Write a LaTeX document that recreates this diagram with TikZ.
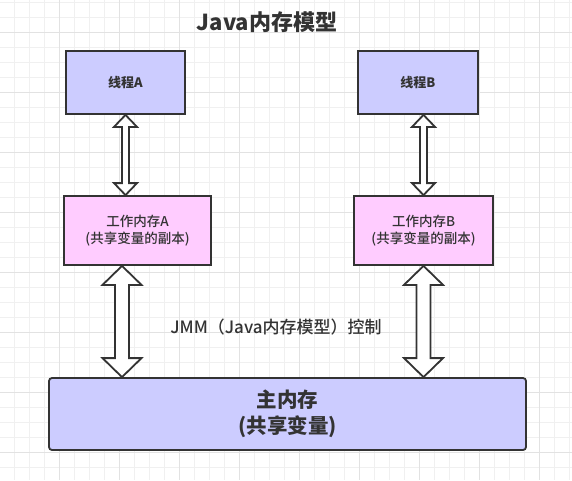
\documentclass[tikz,border=0pt]{standalone}
\usepackage{fontspec}
\setmainfont{Noto Sans CJK SC}
\newfontfamily\cjkmedium{Noto Sans CJK SC}[UprightFont=* Medium]
\usepackage{tikz}
\usetikzlibrary{calc}

\definecolor{ink}{HTML}{333333}
\definecolor{threadblue}{HTML}{CCCCFF}
\definecolor{mempink}{HTML}{FFCCFF}
\definecolor{gridminor}{HTML}{F0F0F0}
\definecolor{gridmajor}{HTML}{E2E2E2}

% hollow double arrow: top point, bottom point, half shaft, half head, head length
\newcommand{\dblarrow}[5]{%
  \draw[fatline] let \p1=(#1), \p2=(#2) in
    (\x1,\y1) -- (\x1+#4,\y1-#5) -- (\x1+#3,\y1-#5) -- (\x1+#3,\y2+#5)
    -- (\x1+#4,\y2+#5) -- (\x1,\y2) -- (\x1-#4,\y2+#5) -- (\x1-#3,\y2+#5)
    -- (\x1-#3,\y1-#5) -- (\x1-#4,\y1-#5) -- cycle;}

\begin{document}
\begin{tikzpicture}[x=1pt,y=-1pt,
    box/.style={draw=ink, line width=1.8pt, text=ink, align=center, inner sep=0pt},
    thread/.style={box, fill=threadblue, font=\bfseries\fontsize{13}{16}\selectfont},
    workmem/.style={box, fill=mempink, font=\cjkmedium\fontsize{13.5}{17}\selectfont},
    mainmem/.style={box, fill=threadblue, rounded corners=3pt, font=\bfseries\fontsize{20.5}{25.5}\selectfont},
    fatline/.style={draw=ink, fill=white, line width=1.8pt, line join=miter}]

        \useasboundingbox (0,0) rectangle (572,480);

        % background grid
        \foreach \gx in {14.5,29.5,...,570} \draw[gridminor, line width=1pt] (\gx,0) -- (\gx,480);
        \foreach \gy in {2.7,17.7,...,480} \draw[gridminor, line width=1pt] (0,\gy) -- (572,\gy);
        \foreach \gx in {59.5,119.5,...,570} \draw[gridmajor, line width=1pt] (\gx,0) -- (\gx,480);
        \foreach \gy in {32.7,92.7,...,480} \draw[gridmajor, line width=1pt] (0,\gy) -- (572,\gy);

        \node[text=ink, font=\bfseries\fontsize{22}{26}\selectfont] (title) at (267,22) {Java内存模型};

        \node[thread, minimum width=119, minimum height=63] (ta) at (125.5,82.5) {线程A};
        \node[thread, minimum width=120, minimum height=63] (tb) at (418,82.5) {线程B};

        \node[workmem, minimum width=147, minimum height=69] (wa) at (137.5,230.5) {工作内存A\\(共享变量的副本)};
        \node[workmem, minimum width=139, minimum height=69] (wb) at (423.5,230.5) {工作内存B\\(共享变量的副本)};

        \node[mainmem, minimum width=477, minimum height=72] (mm) at (287.5,414) {主内存\\(共享变量)};

        \node[text=ink, font=\cjkmedium\fontsize{17}{20}\selectfont] (jmm) at (276,327) {JMM（Java内存模型）控制};

        \dblarrow{ta.south}{ta.south |- wa.north}{3.5pt}{11.5pt}{12pt}
        \dblarrow{wb.north |- tb.south}{wb.north}{3.5pt}{11.5pt}{12pt}
        \dblarrow{[xshift=-15.5pt]wa.south}{[xshift=-15.5pt]wa.south |- mm.north}{7pt}{19.5pt}{19pt}
        \dblarrow{wb.south}{wb.south |- mm.north}{7pt}{19.5pt}{19pt}
    \end{tikzpicture}
\end{document}
